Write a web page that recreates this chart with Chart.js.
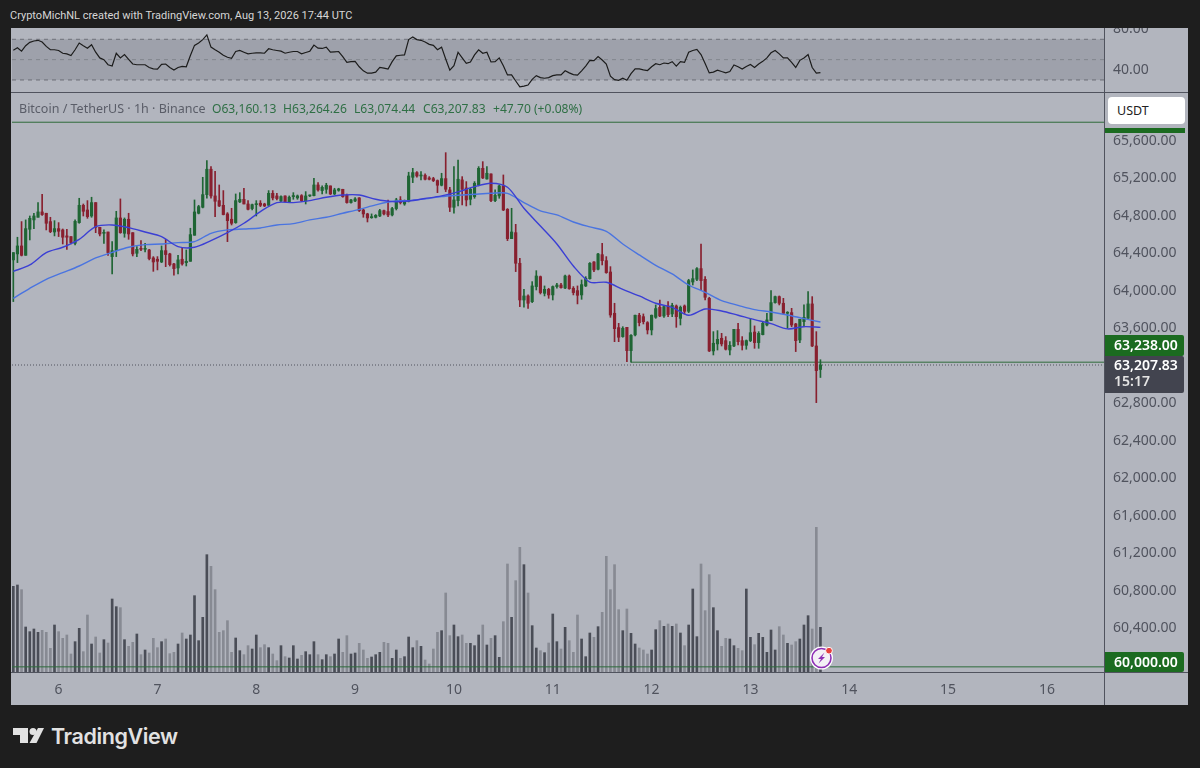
<!DOCTYPE html>
<html lang="en">
<head>
<meta charset="UTF-8">
<title>BTCUSDT 1h</title>
<script src="https://cdn.jsdelivr.net/npm/chart.js"></script>
<style>
    html, body { margin: 0; padding: 0; background: #1e1e1e; width: 1200px; height: 768px; overflow: hidden; }
    body { font-family: "Noto Sans", sans-serif; position: relative; }
    .abs { position: absolute; white-space: nowrap; }
    #pane { left: 11px; top: 28px; width: 1177px; height: 677px; background: #b2b5be; }
    canvas { position: absolute; left: 12px; }
    #rsiChart { top: 28px; }
    #priceChart { top: 93px; }
    .rule { background: #50535e; }
    .tag { left: 1105px; width: 79px; color: #fff; font-size: 14px; font-weight: 600; border-radius: 0 2px 2px 0; }
    .tag span { position: absolute; left: 9px; }
    #caption { left: 10px; top: 9px; font-family: Roboto, sans-serif; font-size: 11px; color: #d6d6d6; }
    #legend span { position: absolute; top: 100px; font-size: 12.1px; color: #2f6f45; white-space: nowrap; }
    #legend .name { color: #5a5d68; font-size: 12.5px; }
    #usdt { left: 1108px; top: 97px; width: 77px; height: 27px; background: #fff; border-radius: 4px; color: #222; font-size: 12.5px; line-height: 27px; text-indent: 9px; }
    #brand { left: 51px; top: 723px; font-family: Inter, sans-serif; font-size: 21.5px; font-weight: 600; color: #e2e2e2; letter-spacing: -0.4px; }
</style>
</head>
<body>
<div class="abs" id="pane"></div>
<div class="abs" id="caption">CryptoMichNL created with TradingView.com, Aug 13, 2026 17:44 UTC</div>

<canvas id="rsiChart" width="1176" height="64"></canvas>
<canvas id="priceChart" width="1176" height="612"></canvas>

<div class="abs rule" style="left:11px;top:92px;width:1177px;height:1px"></div>
<div class="abs rule" style="left:11px;top:672px;width:1177px;height:1px"></div>
<div class="abs rule" style="left:1104px;top:28px;width:1px;height:677px"></div>

<div id="legend">
    <span class="name" style="left:19px">Bitcoin / TetherUS · 1h · Binance</span>
    <span style="left:212px">O63,160.13</span>
    <span style="left:283px">H63,264.26</span>
    <span style="left:354px">L63,074.44</span>
    <span style="left:423px">C63,207.83</span>
    <span style="left:493px">+47.70 (+0.08%)</span>
</div>

<div class="abs" id="usdt">USDT</div>
<div class="abs" style="left:1105px;top:128px;width:80px;height:5px;background:#1b6b20"></div>
<div class="abs tag" style="top:335px;height:21px;background:#1b6b20"><span style="top:0;line-height:20px">63,238.00</span></div>
<div class="abs tag" style="top:356px;height:37px;background:#42444f"><span style="top:0;line-height:18px">63,207.83</span><span style="top:16px;line-height:18px;color:#e4e4e4">15:17</span></div>
<div class="abs tag" style="top:652px;height:20px;background:#1b6b20"><span style="top:0;line-height:20px">60,000.00</span></div>

<svg class="abs" style="left:808px;top:645px" width="28" height="26" viewBox="0 0 28 26">
    <circle cx="13.5" cy="13" r="11.5" fill="#fff"/>
    <circle cx="13.5" cy="13" r="9.5" fill="#f4f0f6" stroke="#8e2fb5" stroke-width="1.6"/>
    <path d="M16.5 7.5 L10 14 L13 14 L10.5 18.5 L17 12 L14 12 Z" fill="#8e2fb5"/>
    <circle cx="21" cy="5.7" r="3.4" fill="#e8403c" stroke="#fff" stroke-width="1"/>
</svg>

<svg class="abs" style="left:12px;top:727px" width="34" height="18" viewBox="0 0 34 18">
    <path d="M1 1 H16 V16 H8 V8 H1 Z" fill="#e2e2e2"/>
    <circle cx="21" cy="4.5" r="3.5" fill="#e2e2e2"/>
    <path d="M26 1 H32 L24.5 16 H17.5 Z" fill="#e2e2e2"/>
</svg>
<div class="abs" id="brand">TradingView</div>

<script>
    var opens = [64330,64394,64479,64379,64657,64757,64785,64842,64828,64739,64628,64664,64650,64586,64579,64507,64728,64913,64863,64799,
        64942,64678,64614,64628,64365,64429,64778,64614,64764,64621,64401,64450,64443,64436,64351,64337,64308,64429,64394,64287,
        64244,64337,64301,64315,64593,64828,64892,65027,65298,65013,64963,64913,64821,64764,64728,64949,64977,64927,64878,64920,
        64935,64927,64913,65041,65013,64959,65013,64949,65006,64992,65016,64959,65013,65016,65130,65070,65084,65120,65034,65073,
        65084,65020,64942,64959,64992,64863,64821,64781,64785,64799,64856,64846,64810,64878,64970,64927,64956,65212,65262,65226,
        65234,65205,65198,65177,65127,65198,65077,64892,64963,65184,65098,64977,65006,65130,65308,65194,65248,64963,65013,65120,
        64870,64557,64621,64294,63902,63945,63884,64045,64151,63973,64016,63956,64045,64062,64030,64158,64027,64002,63956,64052,
        64130,64308,64230,64386,64322,64201,63760,63607,63511,63610,63361,63529,63739,63724,63660,63582,63717,63824,63731,63838,
        63753,63838,63706,63838,63781,64094,64123,64237,64123,63920,63358,63433,63493,63468,63368,63411,63589,63468,63418,63468,
        63560,63447,63532,63635,63682,63874,63938,63867,63760,63767,63646,63475,63671,63706,63860,63411,63160.13];
    var highs = [64408,64572,64739,64757,64799,64828,64942,65031,64828,64785,64749,64728,64660,64657,64579,64757,64988,64927,64963,64999,
        64942,64678,64650,64628,64525,64849,64981,64778,64828,64621,64472,64536,64507,64443,64365,64365,64479,64550,64401,64294,
        64379,64465,64436,64668,64970,64913,65212,65390,65326,65276,65130,65070,64835,64881,65034,65048,65095,64963,64927,64963,
        64963,64935,65070,65070,65041,65013,65013,65013,65048,65023,65027,65059,65023,65201,65155,65120,65148,65120,65095,65095,
        65084,65034,64977,64995,64995,64870,64828,64821,64814,64870,64863,64970,64892,64988,65006,64970,65266,65308,65273,65273,
        65248,65219,65212,65184,65255,65475,65105,65326,65397,65219,65166,65095,65166,65326,65379,65326,65248,65077,65130,65237,
        64878,64881,64710,64347,64016,63956,64098,64215,64158,64052,64027,64052,64080,64080,64169,64169,64045,64052,64116,64151,
        64301,64312,64401,64507,64365,64258,63867,63653,63617,63610,63532,63742,63760,63753,63671,63742,63849,63902,63838,63884,
        63867,63849,63838,63849,64123,64223,64247,64500,64151,63931,63564,63575,63546,63511,63457,63589,63653,63511,63475,63706,
        63625,63564,63671,63760,64002,63945,63945,63920,63778,63813,63653,63696,63849,63991,63938,63564,63264.26];
    var lows = [63885,64301,64372,64379,64543,64664,64785,64806,64650,64621,64586,64579,64500,64443,64500,64490,64721,64799,64774,64785,
        64621,64586,64507,64379,64180,64365,64614,64572,64550,64372,64365,64429,64415,64330,64208,64223,64301,64258,64265,64166,
        64180,64273,64265,64315,64593,64821,64885,64988,64988,64792,64899,64810,64525,64703,64721,64942,64927,64863,64863,64799,
        64899,64899,64913,64970,64970,64952,64949,64942,64977,64977,64952,64927,65006,65013,65063,65034,65041,65027,65027,65063,
        64999,64935,64935,64952,64846,64785,64735,64774,64778,64792,64810,64792,64799,64863,64927,64913,64949,65155,65212,65184,
        65184,65184,65166,65048,65120,65059,64846,64828,64906,64917,64906,64917,64988,65120,65198,65191,64952,64952,64988,64856,
        64536,64557,64205,63831,63824,63813,63874,64009,63966,63945,63920,63902,64027,64027,64023,64016,63956,63860,63909,64045,
        64123,64205,64223,64276,64187,63717,63457,63457,63504,63244,63237,63518,63625,63646,63539,63529,63706,63724,63717,63724,
        63724,63610,63635,63753,63767,64062,64109,64009,63902,63351,63315,63368,63411,63368,63315,63404,63422,63368,63376,63457,
        63386,63386,63529,63625,63682,63867,63849,63753,63600,63617,63351,63447,63617,63706,63404,62806,63074.44];
    var closes = [64408,64479,64379,64664,64774,64799,64842,64814,64721,64632,64664,64636,64572,64572,64515,64742,64913,64849,64792,64942,
        64678,64607,64621,64408,64429,64778,64621,64764,64607,64394,64443,64443,64450,64344,64308,64315,64429,64387,64280,64237,
        64330,64287,64315,64600,64842,64899,65027,65298,65013,64956,64906,64814,64749,64721,64963,64977,64927,64870,64920,64927,
        64913,64906,65041,64992,64985,65006,64952,64999,65013,65013,64963,65013,65020,65130,65077,65105,65127,65034,65077,65088,
        65006,64942,64970,64981,64856,64821,64778,64785,64806,64856,64821,64810,64878,64970,64942,64956,65226,65262,65226,65234,
        65191,65191,65177,65127,65198,65084,64892,64970,65191,65084,64970,65084,65148,65308,65205,65255,64963,65020,65120,64863,
        64557,64628,64294,63902,63945,63867,64052,64158,63981,64016,63956,64045,64062,64034,64158,64023,63981,63952,64066,64134,
        64294,64223,64393,64322,64194,63742,63596,63504,63600,63361,63525,63739,63660,63671,63582,63739,63810,63731,63831,63746,
        63845,63724,63824,63781,64109,64130,64237,64109,63931,63358,63440,63482,63433,63376,63418,63589,63457,63418,63468,63553,
        63447,63546,63653,63689,63874,63938,63867,63760,63767,63635,63468,63696,63717,63860,63411,63148,63207.83];
    var volumes = [257,261,247,135,121,129,119,125,119,71,141,121,101,111,54,91,131,61,171,84,105,57,97,87,219,196,193,97,77,89,114,52,66,57,101,73,91,99,55,59,
        84,117,99,111,229,94,164,352,317,247,119,124,154,59,102,64,52,79,69,111,73,82,73,54,34,79,46,42,79,39,50,61,52,91,52,37,52,46,54,99,
        59,109,54,57,86,66,41,45,52,59,89,86,41,66,41,46,105,73,94,77,36,24,69,119,124,237,109,141,106,111,86,86,79,111,141,81,101,109,44,151,
        324,164,274,374,322,237,139,72,64,58,87,174,91,69,134,94,59,171,99,46,117,104,136,179,347,247,322,187,124,189,116,84,72,66,54,66,127,154,137,144,
        137,144,117,79,141,249,106,324,184,292,193,124,77,101,99,79,71,64,249,104,82,116,104,59,126,66,136,111,86,81,91,99,141,169,129,434,134];
    var rsi = [59.3,61.7,58.3,63.7,67,68.3,69,67.3,63,59.7,59.7,59,56.3,55.7,54,59.7,66.3,63.7,61.3,64.7,57.3,51.7,50,45,43.7,56.3,51.7,55,50.3,45.7,45,45,45,42.3,41,40.7,45.3,45.7,42.3,39.7,
        42.3,43.3,43,54,64,66.3,69.7,74.3,62.3,59.7,57.3,54.3,52.3,51.3,58,59,57.3,55.7,56.3,56.7,56.7,56.3,60.7,59.7,59,58.3,56.3,57.3,58,58,55.7,57,58.3,64.3,61.3,61,62.3,57.3,57.7,58,
        53,47.3,48,48.3,43,39,36.7,36.7,37.7,42.3,41.7,40.7,48,53.7,54.3,54.7,69.7,72.3,69.7,69,67.3,65,64,59.7,62.3,50.7,39.7,44,57.3,51.7,46.3,47.7,54.7,59.7,56.3,57.3,47.7,48,51.7,44,
        35,35,29,23.3,24,25,30.7,34.3,32.3,31.7,32.3,34.3,35,35,39,37,35.3,34.7,39,43.7,49.3,49,53,49.7,45.7,33.7,30.3,29.7,31.7,29.7,36.3,41,41,40,39.3,43,46,45,46.7,46,48,43.7,48,47.3,
        57.3,59,60,55,46.3,37,37.7,39.7,38.3,37,38.3,44.7,43,40.7,43.3,45.3,42.3,45.7,48.3,51.7,56.7,59,55.7,51.7,51.7,47.3,42.3,49.3,51.7,55,42.3,36.7,37.3];

    // moving averages
    var maBars = [0,4,8,12,16,20,24,28,32,36,40,44,48,52,56,60,64,68,72,76,80,84,88,92,96,100,104,108,112,116,120,124,128,132,136,140,144,148,152,156,160,164,168,172,176,180,184,188,192,196];
    var maFast = [64208,64276,64408,64465,64550,64685,64703,64675,64628,64579,64472,64465,64536,64621,64721,64846,64942,64942,64963,64999,65023,65023,64977,64952,64959,64985,65013,65056,65112,65148,65105,64881,64692,64500,64265,64094,64091,64016,63945,63867,63824,63739,63806,63785,63739,63692,63650,63593,63617,63610];
    var maSlow = [63920,64027,64123,64194,64265,64351,64411,64465,64493,64500,64515,64525,64614,64650,64660,64671,64703,64717,64757,64785,64828,64870,64917,64956,64963,64981,65006,65020,65031,65041,65041,64942,64853,64810,64735,64682,64635,64500,64383,64272,64180,64062,63984,63895,63845,63799,63774,63742,63703,63667];

    var priceTicks = [65600,65200,64800,64400,64000,63600,63200,62800,62400,62000,61600,61200,60800,60400];
    var rsiTicks = [80,40];
    var rsiLevels = [70,50,30];
    var dayBars = [11,35,59,83,107,131,155,179,203,227,251];
    var dayLabels = ['6','7','8','9','10','11','12','13','14','15','16'];
    var topLevel = 65800, supportLevel = 63238, bottomLevel = 59985, lastPrice = 63207.83;
    var supportStart = 150;

    var UP = '#1f6534', DOWN = '#88202f', VOL_UP = '#4a4d57', VOL_DOWN = '#878a93';
    var AXIS_TEXT = '#50535e', FONT = '"Noto Sans", sans-serif';
    var X_MIN = -0.32, X_MAX = 264.86;

    function isUp(i) { return closes[i] >= opens[i]; }
    function candleColors() { return closes.map(function (c, i) { return isUp(i) ? UP : DOWN; }); }
    function hline(y, from, color, dash, id) {
        return {
            type: 'line', yAxisID: id, data: [{ x: from, y: y }, { x: X_MAX, y: y }],
            borderColor: color, borderWidth: 1, borderDash: dash || [], pointRadius: 0, order: 4
        };
    }
    // fixed axis size, and no room kept for tick labels that stick out
    function fixedAxis(size, key) {
        return function (scale) {
            scale[key] = size;
            scale.paddingTop = scale.paddingBottom = scale.paddingLeft = scale.paddingRight = 0;
        };
    }

    new Chart(document.getElementById('priceChart').getContext('2d'), {
        type: 'bar',
        data: {
            datasets: [
                {
                    yAxisID: 'vol', order: 6, grouped: false, barThickness: 2,
                    data: volumes.map(function (v, i) { return { x: i, y: v }; }),
                    backgroundColor: volumes.map(function (v, i) { return isUp(i) ? VOL_UP : VOL_DOWN; })
                },
                hline(topLevel, X_MIN, '#2e6b3a', null, 'y'),
                hline(bottomLevel, X_MIN, '#2e6b3a', null, 'y'),
                hline(supportLevel, supportStart, '#2e6b3a', null, 'y'),
                hline(lastPrice, X_MIN, '#50535e', [1, 2], 'y'),
                {
                    yAxisID: 'y', order: 3, grouped: false, barThickness: 1,
                    data: highs.map(function (h, i) { return { x: i, y: [lows[i], h] }; }),
                    backgroundColor: candleColors()
                },
                {
                    yAxisID: 'y', order: 2, grouped: false, barThickness: 2.5, minBarLength: 1,
                    data: opens.map(function (o, i) { return { x: i, y: [o, closes[i]] }; }),
                    backgroundColor: candleColors()
                },
                {
                    type: 'line', yAxisID: 'y', order: 1, borderColor: '#4a74e0', borderWidth: 1.4, pointRadius: 0, tension: 0.3,
                    data: maSlow.map(function (v, i) { return { x: maBars[i], y: v }; })
                },
                {
                    type: 'line', yAxisID: 'y', order: 0, borderColor: '#3b3fd4', borderWidth: 1.4, pointRadius: 0, tension: 0.3,
                    data: maFast.map(function (v, i) { return { x: maBars[i], y: v }; })
                }
            ]
        },
        options: {
            responsive: false, animation: false, devicePixelRatio: 1,
            layout: { autoPadding: false, padding: 0 },
            plugins: { legend: { display: false }, tooltip: { enabled: false } },
            scales: {
                x: {
                    type: 'linear', min: X_MIN, max: X_MAX, position: 'bottom', offset: false,
                    grid: { display: false, offset: false }, border: { display: false },
                    afterBuildTicks: function (scale) { scale.ticks = dayBars.map(function (v) { return { value: v }; }); },
                    afterFit: fixedAxis(33, 'height'),
                    ticks: {
                        autoSkip: false, maxRotation: 0, padding: 2, color: AXIS_TEXT, font: { family: FONT, size: 14 },
                        callback: function (v, i) { return dayLabels[i]; }
                    }
                },
                y: {
                    type: 'linear', position: 'right', min: 59930, max: 66112,
                    grid: { display: false }, border: { display: false },
                    afterBuildTicks: function (scale) { scale.ticks = priceTicks.map(function (v) { return { value: v }; }); },
                    afterFit: fixedAxis(84, 'width'),
                    ticks: {
                        autoSkip: false, padding: 1, color: AXIS_TEXT, font: { family: FONT, size: 14 },
                        callback: function (v) { return v.toLocaleString('en-US', { minimumFractionDigits: 2 }); }
                    }
                },
                vol: { type: 'linear', display: false, min: 0, max: 1737 }
            }
        }
    });

    new Chart(document.getElementById('rsiChart').getContext('2d'), {
        type: 'line',
        data: {
            datasets: [
                {
                    order: 2, data: [{ x: X_MIN, y: rsiLevels[0] }, { x: X_MAX, y: rsiLevels[0] }], fill: '+2',
                    backgroundColor: 'rgba(80,83,94,0.2)', borderColor: '#6f717a', borderWidth: 1, borderDash: [4, 4], pointRadius: 0
                },
                hline(rsiLevels[1], X_MIN, '#8f9199', [4, 4], 'y'),
                hline(rsiLevels[2], X_MIN, '#6f717a', [4, 4], 'y'),
                {
                    order: 1, data: rsi.map(function (v, i) { return { x: i, y: v }; }),
                    borderColor: '#1c1c1c', borderWidth: 1.2, pointRadius: 0
                }
            ]
        },
        options: {
            responsive: false, animation: false, devicePixelRatio: 1,
            layout: { autoPadding: false, padding: 0 },
            plugins: { legend: { display: false }, tooltip: { enabled: false } },
            scales: {
                x: { type: 'linear', display: false, min: X_MIN, max: X_MAX },
                y: {
                    type: 'linear', position: 'right', min: 18.2, max: 81.1,
                    grid: { display: false }, border: { display: false },
                    afterBuildTicks: function (scale) { scale.ticks = rsiTicks.map(function (v) { return { value: v }; }); },
                    afterFit: fixedAxis(84, 'width'),
                    ticks: {
                        autoSkip: false, padding: 1, color: AXIS_TEXT, font: { family: FONT, size: 14 },
                        callback: function (v) { return v.toFixed(2); }
                    }
                }
            }
        }
    });
</script>
</body>
</html>
